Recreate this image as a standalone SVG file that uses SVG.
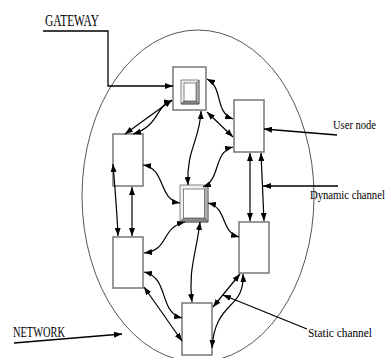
<svg xmlns="http://www.w3.org/2000/svg" width="388" height="358" viewBox="0 0 388 358">
  <style>
    .node { fill: #ffffff; stroke: #777777; stroke-width: 1.5; }
    .edge { fill: none; stroke: #000000; stroke-width: 1.2; marker-start: url(#head); marker-end: url(#head); }
    .lead { fill: none; stroke: #000000; stroke-width: 1.3; marker-end: url(#head); }
    .lbl { font-family: "Liberation Serif", "Times New Roman", serif; fill: #000000; }
    .bev-t { fill: #f2f2f2; stroke: #666666; stroke-width: 0.8; }
    .bev-r { fill: #b0b0b0; stroke: #666666; stroke-width: 0.8; }
    .bev-b { fill: #8a8a8a; stroke: #555555; stroke-width: 0.8; }
    .face { fill: #ffffff; stroke: #666666; stroke-width: 0.8; }
  </style>
  <defs>
    <marker id="head" viewBox="0 0 8 6" refX="8" refY="3" markerWidth="8" markerHeight="6" markerUnits="userSpaceOnUse" orient="auto-start-reverse">
      <path d="M0,0 L8,3 L0,6 z" fill="#000000"/>
    </marker>
  </defs>

  <rect width="388" height="358" fill="#ffffff"/>

  <!-- network boundary -->
  <ellipse id="network" cx="198" cy="196" rx="116" ry="166" fill="none" stroke="#555555" stroke-width="1"/>

  <!-- nodes -->
  <g id="gateway-top">
    <rect class="node" x="173" y="67" width="33" height="43"/>
    <polygon class="bev-t" points="181,80 199,80 199,104 181,104"/>
    <polygon class="bev-r" points="199,80 199,104 196,101 196,83"/>
    <polygon class="bev-b" points="181,104 199,104 196,101 184,101"/>
    <rect class="face" x="184" y="83" width="12" height="18"/>
  </g>
  <g id="user-node-right-top">
    <rect class="node" x="234" y="100" width="30" height="52"/>
  </g>
  <g id="user-node-left-top">
    <rect class="node" x="113" y="134" width="30" height="52"/>
  </g>
  <g id="gateway-center">
    <polygon class="bev-t" points="180,185 208,185 208,222 180,222"/>
    <polygon class="bev-r" points="208,185 208,222 204.5,218 204.5,189"/>
    <polygon class="bev-b" points="180,222 208,222 204.5,218 183.5,218"/>
    <rect class="face" x="183.5" y="189" width="21" height="29"/>
  </g>
  <g id="user-node-left-bottom">
    <rect class="node" x="113" y="237" width="30" height="51"/>
  </g>
  <g id="user-node-right-bottom">
    <rect class="node" x="239" y="222" width="30" height="51"/>
  </g>
  <g id="user-node-bottom">
    <rect class="node" x="182" y="303" width="30" height="52"/>
  </g>

  <!-- channels between nodes -->
  <g id="connectors">
    <path class="edge" d="M207,79 C224,88 214,112 233,119"/>
    <path class="edge" d="M207,112 L233,137"/>
    <path class="edge" d="M233,147 C213,152 221,180 203,187"/>
    <path class="edge" d="M201,111 C200,140 186,150 188,185"/>
    <path class="edge" d="M172,100 L125,134"/>
    <path class="edge" d="M172,101 C156,104 160,126 133,134"/>
    <path class="edge" d="M143,165 C166,168 158,200 180,203"/>
    <path class="edge" d="M132,187 L132,236"/>
    <path class="edge" d="M113,164 C115,190 117,210 118,236"/>
    <path class="edge" d="M185,222 C160,228 170,250 144,253"/>
    <path class="edge" d="M208,203 C228,208 220,232 239,237"/>
    <path class="edge" d="M250,153 L250,221"/>
    <path class="edge" d="M261,153 L264,221"/>
    <path class="edge" d="M200,222 C196,255 188,270 192,302"/>
    <path class="edge" d="M144,272 C170,278 158,312 182,318"/>
    <path class="edge" d="M144,287 L182,341"/>
    <path class="edge" d="M240,274 L213,307"/>
    <path class="edge" d="M243,274 C245,310 215,300 212,348"/>
  </g>

  <!-- label leaders -->
  <g id="leaders">
    <polyline class="lead" points="43,31 108,31 108,86 173,86"/>
    <path class="lead" d="M337,135 L264,129"/>
    <path class="lead" d="M338,186 L263,186"/>
    <path class="lead" d="M307,329 L223,295"/>
    <path class="lead" d="M14,343 L122,334"/>
  </g>

  <!-- labels -->
  <g id="labels">
    <text class="lbl" x="45" y="26" font-size="16" textLength="54" lengthAdjust="spacingAndGlyphs">GATEWAY</text>
    <text class="lbl" x="333" y="129" font-size="13.5" textLength="43" lengthAdjust="spacingAndGlyphs">User node</text>
    <text class="lbl" transform="translate(310,199) scale(0.79,1)" x="0" y="0" font-size="13.5">Dynamic channel</text>
    <text class="lbl" x="308" y="337" font-size="13.5" textLength="64" lengthAdjust="spacingAndGlyphs">Static channel</text>
    <text class="lbl" x="13" y="337" font-size="14" textLength="52" lengthAdjust="spacingAndGlyphs">NETWORK</text>
  </g>
</svg>
